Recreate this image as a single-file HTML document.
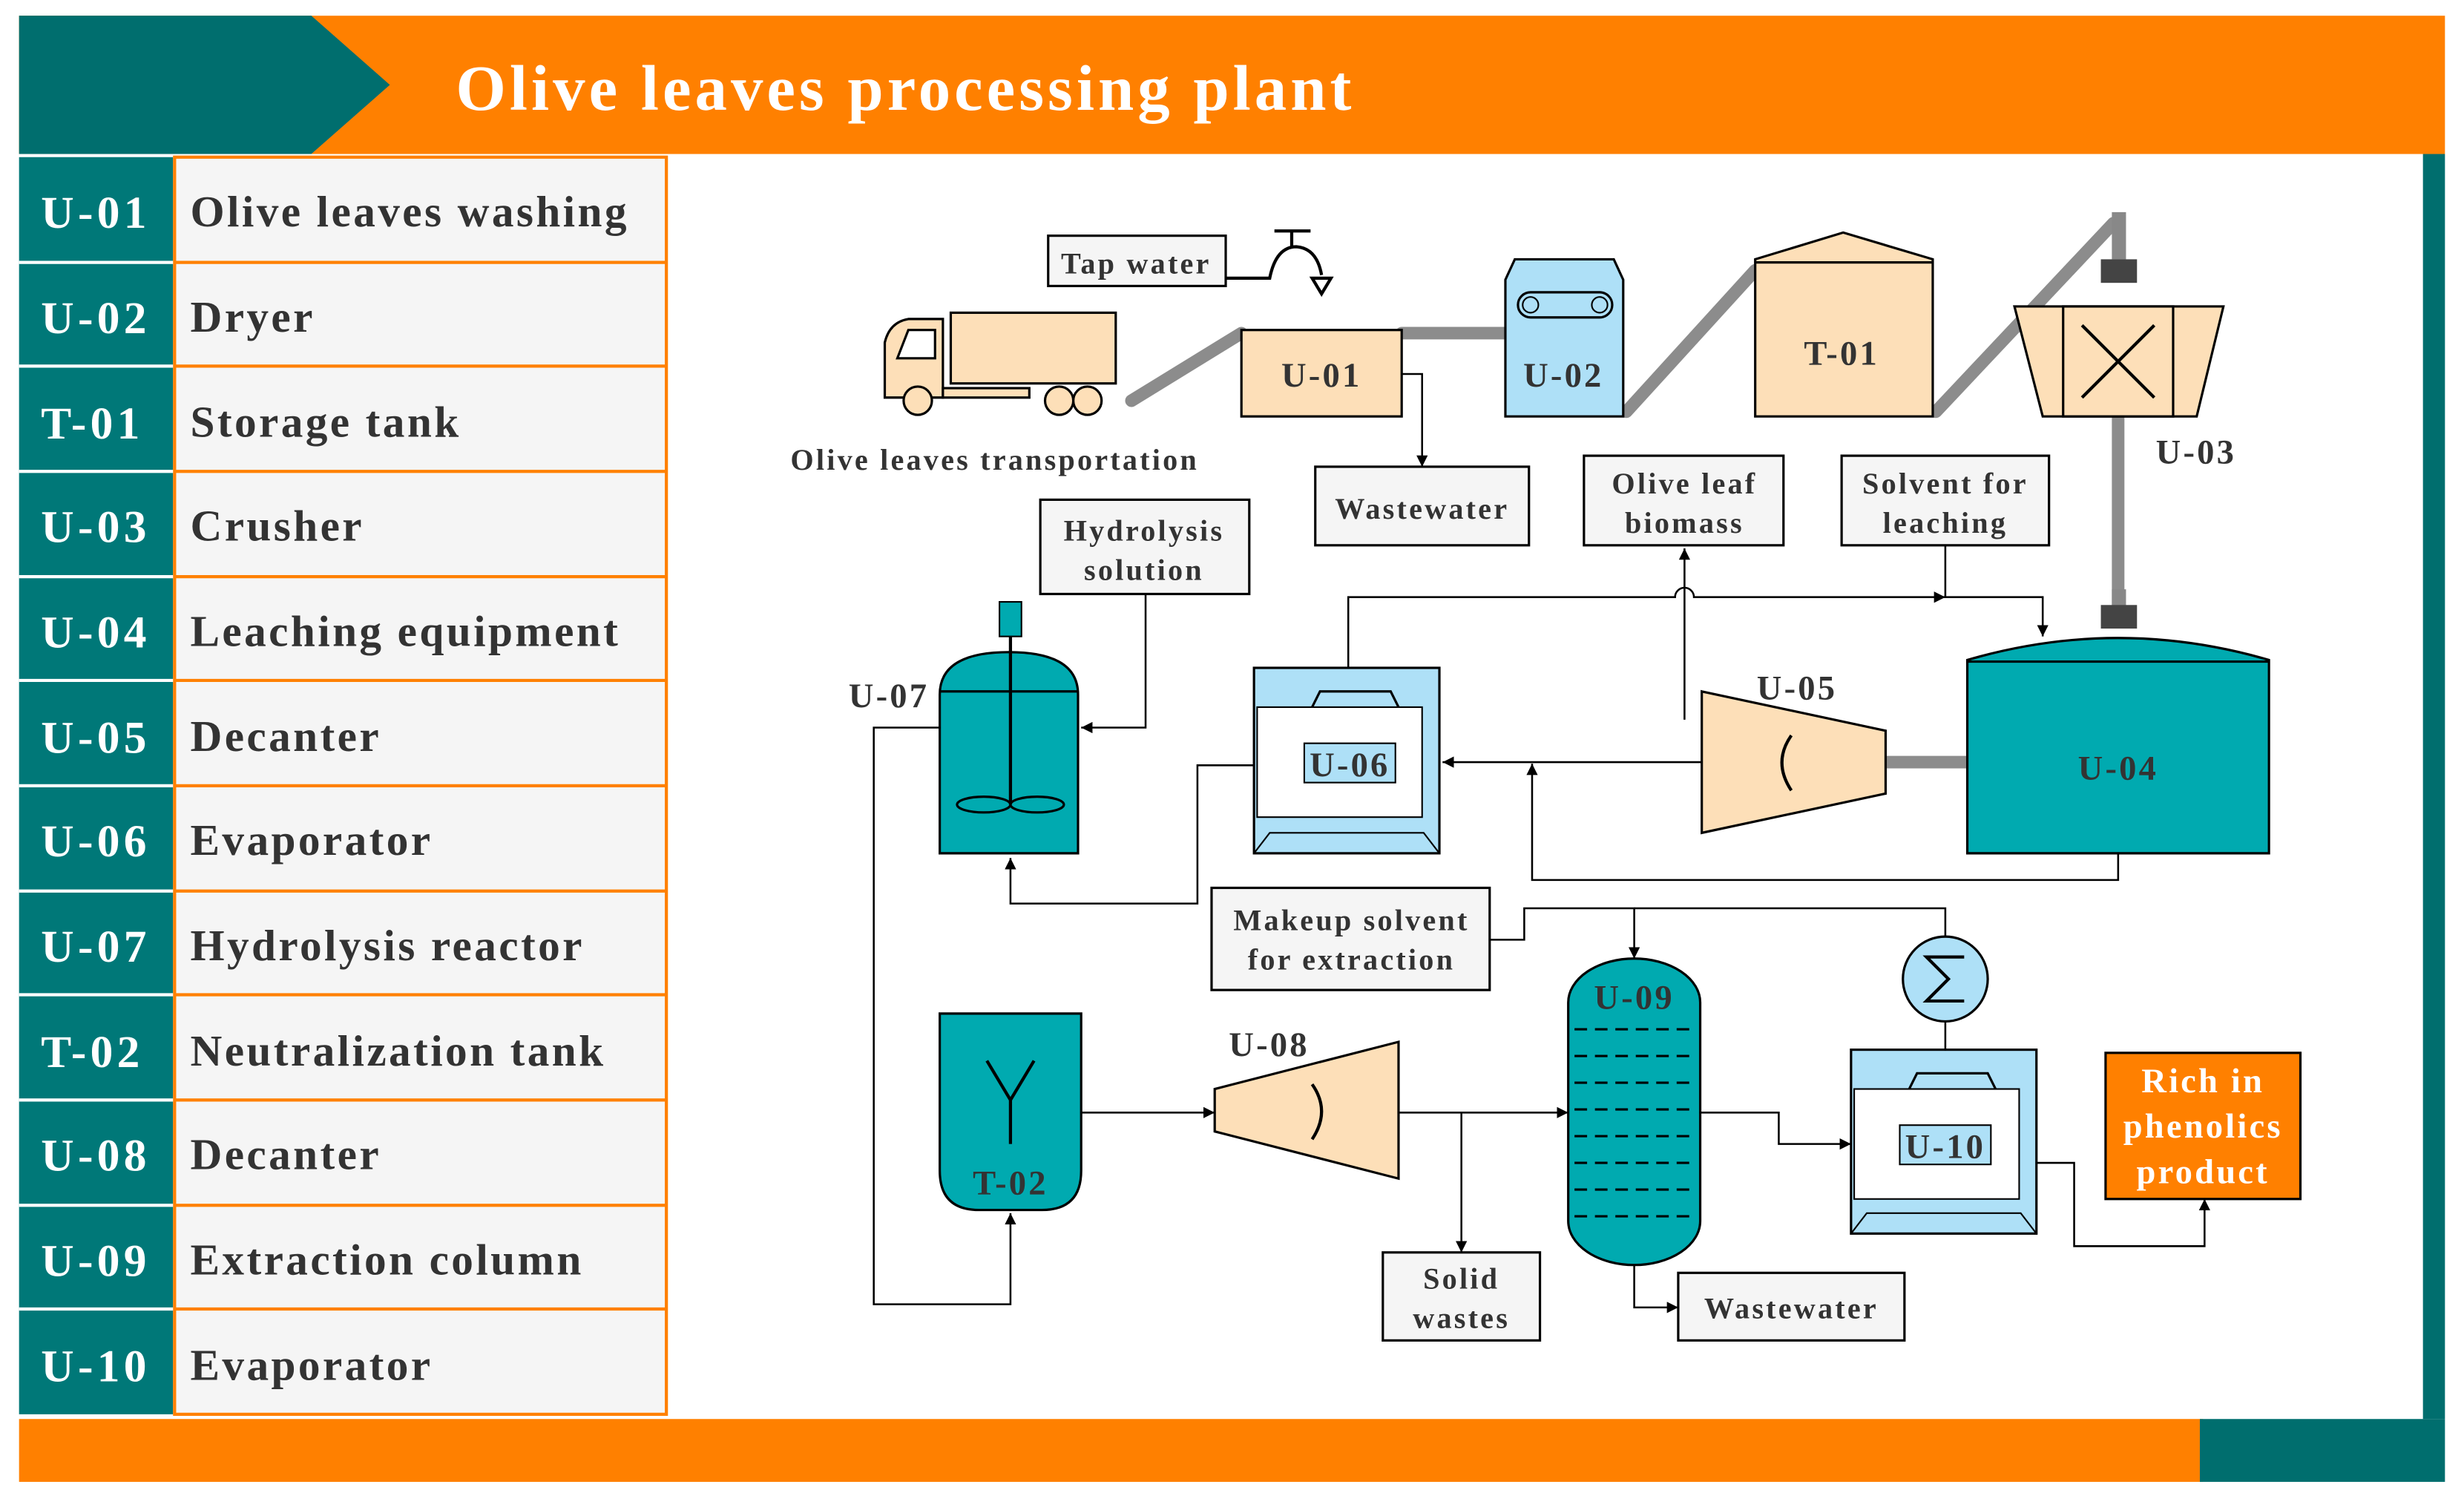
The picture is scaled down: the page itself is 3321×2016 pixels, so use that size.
<!DOCTYPE html>
<html><head><meta charset="utf-8"><style>
html,body{margin:0;padding:0;background:#fff;}
svg{display:block;}
text{font-family:"Liberation Serif",serif;font-weight:bold;}
.d text{letter-spacing:1.5px;}
</style></head><body>
<svg width="3321" height="2016" viewBox="0 0 1568 952" xmlns="http://www.w3.org/2000/svg">
<defs>
<marker id="a" viewBox="0 0 10 10" refX="10" refY="5" markerWidth="6" markerHeight="6" orient="auto"><path d="M0,0L10,5L0,10z" fill="#000"/></marker>
</defs>
<rect width="1568" height="952" fill="#fff"/>
<rect x="12" y="10" width="1544" height="88" fill="#ff8000"/>
<polygon points="12,10 198,10 248,54 198,98 12,98" fill="#006e6e"/>
<text x="290" y="70" font-size="41" fill="#fff" textLength="570" lengthAdjust="spacing">Olive leaves processing plant</text>
<rect x="1542" y="98" width="14" height="805" fill="#006e6e"/>
<rect x="12" y="903" width="1390" height="40" fill="#ff8000"/>
<rect x="1400" y="903" width="156" height="40" fill="#006e6e"/>
<g font-size="29">
<rect x="12" y="100" width="98" height="800" fill="#007878"/>
<rect x="111" y="100" width="313" height="800" fill="#f5f5f5" stroke="#ff8000" stroke-width="2"/>
<g stroke="#ff8000" stroke-width="2">
<line x1="111" y1="167" x2="424" y2="167"/><line x1="111" y1="233" x2="424" y2="233"/><line x1="111" y1="300" x2="424" y2="300"/><line x1="111" y1="367" x2="424" y2="367"/><line x1="111" y1="433" x2="424" y2="433"/><line x1="111" y1="500" x2="424" y2="500"/><line x1="111" y1="567" x2="424" y2="567"/><line x1="111" y1="633" x2="424" y2="633"/><line x1="111" y1="700" x2="424" y2="700"/><line x1="111" y1="767" x2="424" y2="767"/><line x1="111" y1="833" x2="424" y2="833"/>
</g>
<g stroke="#fff" stroke-width="2">
<line x1="12" y1="167" x2="110" y2="167"/><line x1="12" y1="233" x2="110" y2="233"/><line x1="12" y1="300" x2="110" y2="300"/><line x1="12" y1="367" x2="110" y2="367"/><line x1="12" y1="433" x2="110" y2="433"/><line x1="12" y1="500" x2="110" y2="500"/><line x1="12" y1="567" x2="110" y2="567"/><line x1="12" y1="633" x2="110" y2="633"/><line x1="12" y1="700" x2="110" y2="700"/><line x1="12" y1="767" x2="110" y2="767"/><line x1="12" y1="833" x2="110" y2="833"/>
</g>
<g fill="#fff" letter-spacing="2.5">
<text x="26" y="145">U-01</text><text x="26" y="212">U-02</text><text x="26" y="279">T-01</text><text x="26" y="345">U-03</text><text x="26" y="412">U-04</text><text x="26" y="479">U-05</text><text x="26" y="545">U-06</text><text x="26" y="612">U-07</text><text x="26" y="679">T-02</text><text x="26" y="745">U-08</text><text x="26" y="812">U-09</text><text x="26" y="879">U-10</text>
</g>
<g fill="#333" font-size="28" letter-spacing="1.6">
<text x="121" y="144">Olive leaves washing</text><text x="121" y="211">Dryer</text><text x="121" y="278">Storage tank</text><text x="121" y="344">Crusher</text><text x="121" y="411">Leaching equipment</text><text x="121" y="478">Decanter</text><text x="121" y="544">Evaporator</text><text x="121" y="611">Hydrolysis reactor</text><text x="121" y="678">Neutralization tank</text><text x="121" y="744">Decanter</text><text x="121" y="811">Extraction column</text><text x="121" y="878">Evaporator</text>
</g>
</g>
<g class="d">
<g stroke="#8c8c8c" stroke-width="8" stroke-linecap="round" fill="none">
<line x1="720" y1="255" x2="790" y2="212"/>
<line x1="892" y1="212" x2="958" y2="212"/>
<line x1="1035" y1="262" x2="1117" y2="172"/>
<line x1="1232" y1="262" x2="1345" y2="142"/>
<line x1="1348" y1="265" x2="1348" y2="388"/>
<line x1="1200" y1="485" x2="1252" y2="485"/>
</g>
<rect x="1344" y="135" width="9" height="30" fill="#888"/><rect x="1337" y="165" width="23" height="15" fill="#444"/>
<rect x="1344" y="375" width="9" height="15" fill="#888"/><rect x="1337" y="385" width="23" height="15" fill="#444"/>
<g stroke="#000" stroke-width="1.5" fill="#fddfb8">
<rect x="605" y="199" width="105" height="45"/>
<path d="M563,253 L563,218 Q566,205 578,203 L600,203 L600,253 Z"/>
<rect x="600" y="247" width="55" height="6"/>
<path d="M571,228 L578,210 L595,210 L595,228 Z" fill="#fff"/>
<circle cx="584" cy="255" r="9"/><circle cx="674" cy="255" r="9"/><circle cx="692" cy="255" r="9"/>
</g>
<text x="503" y="299" font-size="19" fill="#333">Olive leaves transportation</text>
<g fill="#f5f5f5" stroke="#000" stroke-width="1.5">
<rect x="667" y="150" width="113" height="32"/>
<rect x="837" y="297" width="136" height="50"/>
<rect x="1008" y="290" width="127" height="57"/>
<rect x="1172" y="290" width="132" height="57"/>
<rect x="662" y="318" width="133" height="60"/>
<rect x="771" y="565" width="177" height="65"/>
<rect x="880" y="797" width="100" height="56"/>
<rect x="1068" y="810" width="144" height="43"/>
</g>
<g font-size="19" fill="#333" text-anchor="middle">
<text x="723" y="174">Tap water</text>
<text x="905" y="330">Wastewater</text>
<text x="1072" y="314">Olive leaf</text><text x="1072" y="339">biomass</text>
<text x="1238" y="314">Solvent for</text><text x="1238" y="339">leaching</text>
<text x="728" y="344">Hydrolysis</text><text x="728" y="369">solution</text>
<text x="860" y="592">Makeup solvent</text><text x="860" y="617">for extraction</text>
<text x="930" y="820">Solid</text><text x="930" y="845">wastes</text>
<text x="1140" y="839">Wastewater</text>
</g>
<g stroke="#000" stroke-width="2" fill="none">
<path d="M780,177 L808,177 Q812,157 825,157 Q838,158 841,175"/>
<line x1="822" y1="147" x2="822" y2="157"/><line x1="811" y1="147" x2="834" y2="147"/>
<path d="M835,177 L847,177 L841,187 Z"/>
</g>
<rect x="790" y="210" width="102" height="55" fill="#fddfb8" stroke="#000" stroke-width="1.5"/>
<text x="841" y="246" font-size="22" fill="#333" text-anchor="middle">U-01</text>
<path d="M958,265 L958,178 L964,165 L1027,165 L1033,178 L1033,265 Z" fill="#aee0f7" stroke="#000" stroke-width="1.5"/>
<rect x="966" y="186" width="60" height="16" rx="8" fill="none" stroke="#000" stroke-width="1.5"/>
<circle cx="974" cy="194" r="5" fill="none" stroke="#000"/><circle cx="1018" cy="194" r="5" fill="none" stroke="#000"/>
<text x="995" y="246" font-size="22" fill="#333" text-anchor="middle">U-02</text>
<path d="M1117,265 L1117,165 L1173,148 L1230,165 L1230,265 Z" fill="#fddfb8" stroke="#000" stroke-width="1.5"/>
<line x1="1117" y1="167" x2="1230" y2="167" stroke="#000" stroke-width="1.5"/>
<text x="1172" y="232" font-size="22" fill="#333" text-anchor="middle">T-01</text>
<path d="M1282,195 L1415,195 L1398,265 L1300,265 Z" fill="#fddfb8" stroke="#000" stroke-width="1.5"/>
<rect x="1313" y="195" width="70" height="70" fill="#fddfb8" stroke="#000" stroke-width="1.5"/>
<path d="M1325,207 L1371,253 M1371,207 L1325,253" stroke="#000" stroke-width="2"/>
<text x="1372" y="295" font-size="22" fill="#333">U-03</text>
<path d="M1252,543 L1252,420 Q1348,392 1444,420 L1444,543 Z" fill="#00aab0" stroke="#000" stroke-width="1.5"/>
<line x1="1252" y1="421" x2="1444" y2="421" stroke="#000" stroke-width="1.5"/>
<text x="1348" y="496" font-size="22" fill="#333" text-anchor="middle">U-04</text>
<path d="M1083,440 L1200,465 L1200,505 L1083,530 Z" fill="#fddfb8" stroke="#000" stroke-width="1.5"/>
<path d="M1140,468 Q1128,485 1140,503" fill="none" stroke="#000" stroke-width="2"/>
<text x="1118" y="445" font-size="22" fill="#333">U-05</text>
<rect x="798" y="425" width="118" height="118" fill="#aee0f7" stroke="#000" stroke-width="1.5"/>
<path d="M798,543 L808,530 L906,530 L916,543" fill="none" stroke="#000"/>
<path d="M835,450 L840,440 L885,440 L890,450" fill="none" stroke="#000" stroke-width="1.5"/>
<rect x="800" y="450" width="105" height="70" fill="#fff" stroke="#000"/>
<rect x="830" y="473" width="58" height="25" fill="#aee0f7" stroke="#000"/>
<text x="859" y="494" font-size="22" fill="#333" text-anchor="middle">U-06</text>
<path d="M598,543 L598,442 Q598,415 642,415 Q686,415 686,442 L686,543 Z" fill="#00aab0" stroke="#000" stroke-width="1.5"/>
<line x1="598" y1="440" x2="686" y2="440" stroke="#000" stroke-width="1.5"/>
<rect x="636" y="383" width="14" height="22" fill="#00aab0" stroke="#000"/>
<line x1="643" y1="405" x2="643" y2="512" stroke="#000" stroke-width="2"/>
<ellipse cx="626" cy="512" rx="17" ry="5" fill="none" stroke="#000" stroke-width="1.5"/>
<ellipse cx="660" cy="512" rx="17" ry="5" fill="none" stroke="#000" stroke-width="1.5"/>
<text x="540" y="450" font-size="22" fill="#333">U-07</text>
<path d="M598,645 L688,645 L688,745 Q688,770 663,770 L623,770 Q598,770 598,745 Z" fill="#00aab0" stroke="#000" stroke-width="1.5"/>
<path d="M628,675 L643,700 L658,675 M643,700 L643,728" fill="none" stroke="#000" stroke-width="2"/>
<text x="643" y="760" font-size="22" fill="#333" text-anchor="middle">T-02</text>
<path d="M773,693 L890,663 L890,750 L773,720 Z" fill="#fddfb8" stroke="#000" stroke-width="1.5"/>
<path d="M835,690 Q847,707 835,725" fill="none" stroke="#000" stroke-width="2"/>
<text x="782" y="672" font-size="22" fill="#333">U-08</text>
<rect x="998" y="610" width="84" height="195" rx="42" ry="28" fill="#00aab0" stroke="#000" stroke-width="1.5"/>
<g stroke="#000" stroke-dasharray="8,5" stroke-width="1.5">
<line x1="1002" y1="655" x2="1078" y2="655"/><line x1="1002" y1="672" x2="1078" y2="672"/><line x1="1002" y1="689" x2="1078" y2="689"/><line x1="1002" y1="706" x2="1078" y2="706"/><line x1="1002" y1="723" x2="1078" y2="723"/><line x1="1002" y1="740" x2="1078" y2="740"/><line x1="1002" y1="757" x2="1078" y2="757"/><line x1="1002" y1="774" x2="1078" y2="774"/>
</g>
<text x="1040" y="642" font-size="22" fill="#333" text-anchor="middle">U-09</text>
<circle cx="1238" cy="623" r="27" fill="#aee0f7" stroke="#000" stroke-width="1.5"/>
<path d="M1250,609 L1226,609 L1240,623 L1226,637 L1250,637" fill="none" stroke="#000" stroke-width="2"/>
<rect x="1178" y="668" width="118" height="117" fill="#aee0f7" stroke="#000" stroke-width="1.5"/>
<path d="M1178,785 L1188,772 L1286,772 L1296,785" fill="none" stroke="#000"/>
<path d="M1215,693 L1220,683 L1265,683 L1270,693" fill="none" stroke="#000" stroke-width="1.5"/>
<rect x="1180" y="693" width="105" height="70" fill="#fff" stroke="#000"/>
<rect x="1209" y="716" width="58" height="25" fill="#aee0f7" stroke="#000"/>
<text x="1238" y="737" font-size="22" fill="#333" text-anchor="middle">U-10</text>
<rect x="1340" y="670" width="124" height="93" fill="#ff8000" stroke="#000" stroke-width="1.5"/>
<g font-size="22" fill="#fff" text-anchor="middle"><text x="1402" y="695">Rich in</text><text x="1402" y="724">phenolics</text><text x="1402" y="753">product</text></g>
<g stroke="#000" stroke-width="1.2" fill="none">
<path d="M892,238 L905,238 L905,297" marker-end="url(#a)"/>
<path d="M858,425 L858,380 L1066,380 A6,6 0 0 1 1078,380 L1238,380" marker-end="url(#a)"/>
<path d="M1072,458 L1072,349" marker-end="url(#a)"/>
<path d="M1238,347 L1238,380 L1300,380 L1300,405" marker-end="url(#a)"/>
<path d="M1083,485 L918,485" marker-end="url(#a)"/>
<path d="M1348,543 L1348,560 L975,560 L975,486" marker-end="url(#a)"/>
<path d="M798,487 L762,487 L762,575 L643,575 L643,546" marker-end="url(#a)"/>
<path d="M729,378 L729,463 L688,463" marker-end="url(#a)"/>
<path d="M598,463 L556,463 L556,830 L643,830 L643,772" marker-end="url(#a)"/>
<path d="M688,708 L773,708" marker-end="url(#a)"/>
<path d="M890,708 L998,708" marker-end="url(#a)"/>
<path d="M930,708 L930,797" marker-end="url(#a)"/>
<path d="M948,598 L970,598 L970,578 L1040,578 L1040,610" marker-end="url(#a)"/>
<path d="M1238,596 L1238,578 L1040,578"/>
<path d="M1238,650 L1238,668"/>
<path d="M1040,805 L1040,832 L1068,832" marker-end="url(#a)"/>
<path d="M1082,708 L1132,708 L1132,728 L1178,728" marker-end="url(#a)"/>
<path d="M1296,740 L1320,740 L1320,793 L1403,793 L1403,763" marker-end="url(#a)"/>
</g>
</g>
</svg>
</body></html>
